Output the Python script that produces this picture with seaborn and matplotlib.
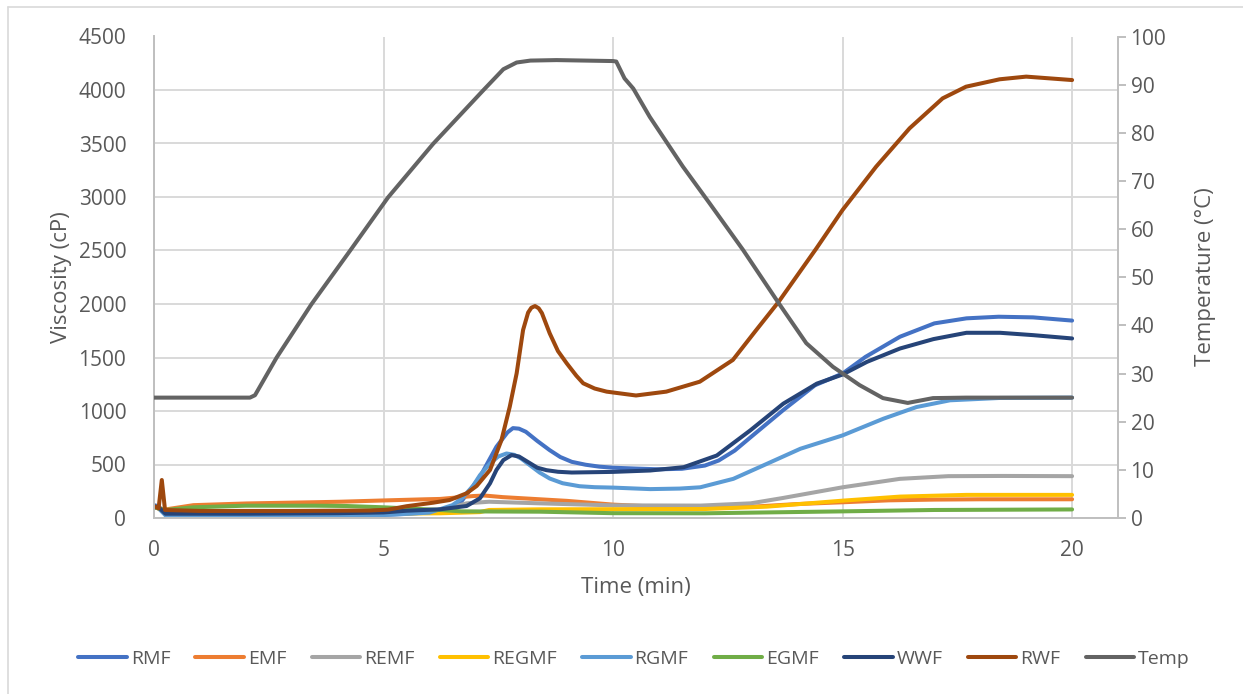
import matplotlib
matplotlib.use("Agg")
import matplotlib.pyplot as plt
from matplotlib.lines import Line2D
import numpy as np
import pandas as pd
import seaborn as sns

# ---- RVA pasting profiles: time (min) and viscosity (cP) per flour ----
rmf_t = [0, 0.1, 0.25, 2, 4, 5, 5.5, 6.0, 6.3, 6.66, 7.1, 7.46, 7.7, 7.82, 7.95, 8.1, 8.35,
         8.62, 8.85, 9.1, 9.4, 9.7, 10.0, 10.5, 11.0, 11.5, 12.0, 12.3, 12.65, 13.0, 13.7,
         14.4, 15.0, 15.5, 16.25, 17.0, 17.7, 18.4, 19.15, 20.0]
rmf_v = [120, 110, 30, 28, 28, 30, 38, 55, 80, 134, 384, 666, 800, 840, 835, 806, 720,
         634, 570, 525, 498, 480, 470, 462, 455, 460, 490, 537, 630, 756, 1006,
         1241, 1350, 1506, 1694, 1819, 1866, 1881, 1875, 1845]

emf_t = [0, 0.1, 0.25, 0.86, 2.02, 3.58, 4.05, 5.0, 5.92, 6.23, 6.95, 7.2, 7.6, 8.4, 9.0,
         10.0, 11.0, 12.0, 13.0, 14.0, 15.0, 16.0, 17.0, 18.0, 20.0]
emf_v = [100, 90, 80, 120, 136, 148, 152, 164, 175, 178, 205, 210, 195, 175, 160,
         125, 105, 95, 105, 130, 147, 165, 172, 175, 175]

remf_t = [0, 0.1, 0.25, 3, 5.5, 6.2, 6.81, 7.3, 8.4, 10, 11.9, 13.0, 13.7, 15.0, 16.25,
          17.3, 18.5, 20.0]
remf_v = [110, 100, 45, 45, 45, 70, 137, 152, 137, 118, 116, 137, 187, 287, 366,
          391, 393, 391]

regmf_t = [0, 0.1, 0.25, 3, 6.23, 7.1, 7.3, 8.4, 12.0, 13.35, 15.0, 16.25, 17.7, 20]
regmf_v = [100, 90, 35, 35, 44, 55, 75, 81, 84, 106, 162, 200, 216, 216]

rgmf_t = [0, 0.1, 0.25, 2, 5, 6.0, 6.5, 6.7, 6.95, 7.1, 7.32, 7.5, 7.68, 7.85, 8.0, 8.14,
          8.4, 8.62, 8.9, 9.27, 9.6, 10.0, 10.81, 11.45, 11.9, 12.62, 13.35, 14.08, 15.0,
          15.89, 16.61, 17.34, 18.43, 20.0]
rgmf_v = [100, 90, 25, 25, 28, 50, 120, 180, 300, 400, 509, 575, 603, 590, 555, 509,
          425, 369, 325, 297, 288, 284, 270, 275, 287, 366, 506, 647, 772,
          928, 1037, 1100, 1122, 1125]

egmf_t = [0, 0.1, 0.25, 0.86, 2.0, 3.5, 4.2, 5.0, 5.5, 6.23, 6.7, 8.4, 10, 12, 15, 17, 20]
egmf_v = [100, 90, 75, 100, 115, 115, 112, 100, 90, 75, 62, 59, 45, 44, 62, 75, 80]

wwf_t = [0, 0.1, 0.25, 2, 4, 5.0, 5.5, 6.23, 6.81, 7.1, 7.32, 7.46, 7.61, 7.79, 7.95, 8.14,
         8.35, 8.55, 8.8, 9.1, 10.0, 10.81, 11.54, 12.26, 12.99, 13.71, 14.44, 15.0,
         15.53, 16.25, 16.98, 17.7, 18.43, 19.15, 20.0]
wwf_v = [110, 100, 40, 40, 45, 52, 68, 81, 112, 184, 324, 449, 541, 588, 575, 525,
         470, 447, 432, 425, 431, 444, 475, 584, 819, 1069, 1256, 1341,
         1459, 1584, 1672, 1731, 1731, 1709, 1678]

rwf_t = [0, 0.1, 0.17, 0.24, 1, 3, 4.7, 5.1, 5.5, 6.08, 6.44, 6.81, 7.03, 7.32, 7.57, 7.75,
         7.9, 8.04, 8.15, 8.22, 8.3, 8.38, 8.45, 8.62, 8.8, 8.99, 9.2, 9.35, 9.6, 9.86,
         10.5, 11.16, 11.89, 12.61, 13.12, 13.61, 14.43, 15.0, 15.73, 16.46, 17.18,
         17.69, 18.42, 19.0, 20.0]
rwf_v = [110, 90, 355, 75, 66, 66, 70, 78, 110, 143, 168, 231, 300, 449, 729, 1040,
         1352, 1757, 1920, 1965, 1981, 1960, 1915, 1726, 1560, 1446, 1330, 1259, 1210, 1181,
         1145, 1181, 1274, 1477, 1757, 2022, 2520, 2879, 3283, 3642, 3922,
         4031, 4100, 4125, 4093]

# ---- temperature programme (°C) ----
temp_t = [0, 2.09, 2.2, 2.67, 3.43, 4.27, 5.10, 6.08, 7.17, 7.61, 7.90, 8.2, 8.77, 10.0,
          10.07, 10.25, 10.44, 10.8, 11.52, 12.1, 12.83, 13.61, 14.21, 14.79, 15.37,
          15.88, 16.42, 16.97, 17.69, 20.0]
temp_v = [25.0, 25.0, 25.5, 33.3, 44.4, 55.5, 66.6, 77.7, 88.8, 93.2, 94.6, 95.0, 95.1,
          94.9, 94.8, 91.3, 89.2, 83.3, 73.0, 65.4, 55.7, 44.6, 36.3, 31.4, 27.6,
          24.9, 23.9, 24.9, 25.0, 25.0]

series_names = ["RMF", "EMF", "REMF", "REGMF", "RGMF", "EGMF", "WWF", "RWF"]
series_data = [(rmf_t, rmf_v), (emf_t, emf_v), (remf_t, remf_v), (regmf_t, regmf_v),
               (rgmf_t, rgmf_v), (egmf_t, egmf_v), (wwf_t, wwf_v), (rwf_t, rwf_v)]
colors = ["#4472C4", "#ED7D31", "#A5A5A5", "#FFC000", "#5B9BD5", "#70AD47",
          "#264478", "#9E480E"]
temp_color = "#636363"

x_ticks = [0, 5, 10, 15, 20]
visc_ticks = list(range(0, 4501, 500))
temp_ticks = list(range(0, 101, 10))

frames = []
for name, (t, v) in zip(series_names, series_data):
    frames.append(pd.DataFrame({"Time": t, "Viscosity": v, "Sample": name}))
df = pd.concat(frames, ignore_index=True)
df_temp = pd.DataFrame({"Time": temp_t, "Temperature": temp_v})

sns.set_style("white")
plt.rcParams["font.family"] = ["Open Sans", "DejaVu Sans"]

TXT = "#595959"
GRID = "#D9D9D9"
AXC = "#BFBFBF"
LW = 2.9

fig = plt.figure(figsize=(12.43, 6.94), dpi=100)
W, H = 1243, 694
ax_l, ax_r, ax_t, ax_b = 154, 1118, 36.5, 518
ax = fig.add_axes([ax_l / W, 1 - ax_b / H, (ax_r - ax_l) / W, (ax_b - ax_t) / H])

sns.lineplot(data=df, x="Time", y="Viscosity", hue="Sample", hue_order=series_names,
             palette=colors, estimator=None, sort=False, linewidth=LW, legend=False,
             ax=ax)
for ln in ax.get_lines():
    ln.set_solid_capstyle("round")
    ln.set_solid_joinstyle("round")

ax.set_xlim(0, 21)
ax.set_ylim(0, 4500)
ax.set_xticks(x_ticks)
ax.set_yticks(visc_ticks)
ax.grid(True, color=GRID, linewidth=1.4)
ax.set_axisbelow(True)
ax.set_xlabel("")
ax.set_ylabel("")
for s in ["top", "right"]:
    ax.spines[s].set_visible(False)
for s in ["left", "bottom"]:
    ax.spines[s].set_color(AXC)
    ax.spines[s].set_linewidth(1.4)
ax.tick_params(axis="both", length=0, labelsize=15, labelcolor=TXT)
ax.tick_params(axis="y", pad=20)
ax.tick_params(axis="x", pad=16)

ax2 = ax.twinx()
sns.lineplot(data=df_temp, x="Time", y="Temperature", color=temp_color, linewidth=LW,
             estimator=None, sort=False, ax=ax2)
ax2.get_lines()[0].set_solid_capstyle("round")
ax2.get_lines()[0].set_solid_joinstyle("round")
ax2.set_ylim(0, 100)
ax2.set_yticks(temp_ticks)
ax2.set_ylabel("")
ax2.grid(False)
for s in ["top", "left", "bottom"]:
    ax2.spines[s].set_visible(False)
ax2.spines["right"].set_color(AXC)
ax2.spines["right"].set_linewidth(1.4)
ax2.tick_params(axis="y", length=6, width=1.4, color=AXC, labelsize=15,
                labelcolor=TXT, pad=3, direction="out")

# axis titles
fig.text(62 / W, 1 - 277 / H, "Viscosity (cP)", rotation=90, ha="center", va="center",
         fontsize=16, color=TXT)
fig.text(1205 / W, 1 - 277 / H, "Temperature (°C)", rotation=90, ha="center",
         va="center", fontsize=16, color=TXT)
fig.text(636 / W, 1 - 588 / H, "Time (min)", ha="center", va="center", fontsize=16,
         color=TXT)

# legend
handles = [Line2D([0], [0], color=c, lw=LW, solid_capstyle="round") for c in colors]
handles.append(Line2D([0], [0], color=temp_color, lw=LW, solid_capstyle="round"))
labels = series_names + ["Temp"]
leg = fig.legend(handles, labels, loc="center", bbox_to_anchor=(634 / W, 1 - 659 / H),
                 ncol=9, frameon=False, fontsize=14, handlelength=2.5,
                 handletextpad=0.2, columnspacing=1.3, labelcolor=TXT)

# chart frame (top and left edges)
fig.add_artist(Line2D([8 / W, 1.0], [1 - 7 / H, 1 - 7 / H], color=GRID, lw=1.2,
                      transform=fig.transFigure))
fig.add_artist(Line2D([8 / W, 8 / W], [1 - 7 / H, 0], color=GRID, lw=1.2,
                      transform=fig.transFigure))

fig.savefig("out.png", dpi=100)
